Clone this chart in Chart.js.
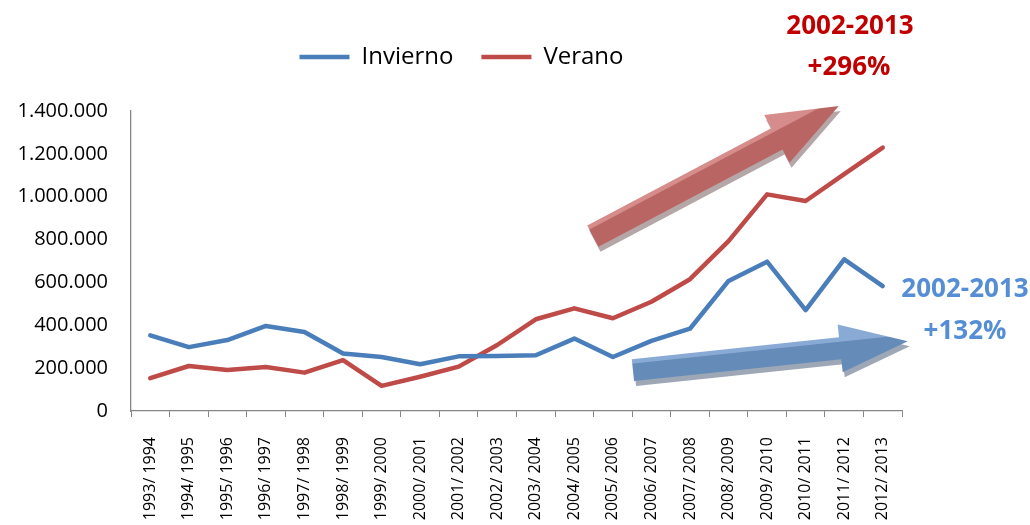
<!DOCTYPE html>
<html lang="es">
<head>
<meta charset="UTF-8">
<title>Invierno / Verano</title>
<style>
    html, body { margin: 0; padding: 0; background: #fff; overflow: hidden; }
    .chart-container { position: relative; width: 1030px; height: 525px; }
</style>
</head>
<body>
<div class="chart-container">
    <canvas id="seasonChart"></canvas>
</div>

<script src="https://cdn.jsdelivr.net/npm/chart.js"></script>
<script>
    // Data
    const seasons = ['1993/ 1994', '1994/ 1995', '1995/ 1996', '1996/ 1997', '1997/ 1998',
        '1998/ 1999', '1999/ 2000', '2000/ 2001', '2001/ 2002', '2002/ 2003',
        '2003/ 2004', '2004/ 2005', '2005/ 2006', '2006/ 2007', '2007/ 2008',
        '2008/ 2009', '2009/ 2010', '2010/ 2011', '2011/ 2012', '2012/ 2013'];
    const invierno = [353000, 298000, 331000, 397000, 369000, 268000, 252000, 218000, 255000, 257000,
        260000, 338000, 252000, 327000, 384000, 607000, 697000, 471000, 708000, 583000];
    const verano = [153000, 210000, 191000, 205000, 179000, 237000, 117000, 160000, 207000, 308000,
        428000, 479000, 433000, 510000, 615000, 793000, 1011000, 980000, 1105000, 1229000];
    const yMax = 1400000;
    const yStep = 200000;

    const blue = '#4a7ebb';
    const red = '#be4b48';
    const axisGray = '#868686';

    function thousands(v) {
        return String(v).replace(/\B(?=(\d{3})+(?!\d))/g, '.');
    }

    // trend arrows, anchored on the chart's own scales (category index, value)
    const arrows = [
        { from: [11.48, 816000], to: [17.86, 1423000], shaft: 24, head: 54, headLen: 70,
          fill: '#b96563', light: '#d68c8a', shadow: 'rgba(150,128,130,0.7)' },
        { from: [12.52, 191000], to: [19.65, 326000], shaft: 22, head: 48, headLen: 68,
          fill: '#658bb8', light: '#8aaad6', shadow: 'rgba(125,138,158,0.75)' }
    ];

    const notes = [
        { text: '2002-2013', x: 850, y: 27, color: '#c00000' },
        { text: '+296%', x: 849, y: 68, color: '#c00000' },
        { text: '2002-2013', x: 965, y: 290, color: '#558ed5' },
        { text: '+132%', x: 965, y: 332, color: '#558ed5' }
    ];

    function arrowPath(ctx, len, a) {
        const sw = a.shaft / 2, hw = a.head / 2;
        ctx.beginPath();
        ctx.moveTo(0, -sw);
        ctx.lineTo(len - a.headLen, -sw);
        ctx.lineTo(len - a.headLen, -hw);
        ctx.lineTo(len, 0);
        ctx.lineTo(len - a.headLen, hw);
        ctx.lineTo(len - a.headLen, sw);
        ctx.lineTo(0, sw);
        ctx.closePath();
    }

    const arrowPlugin = {
        id: 'trendArrows',
        afterDatasetsDraw(chart) {
            const ctx = chart.ctx;
            const xs = chart.scales.x, ys = chart.scales.y;
            arrows.forEach(a => {
                const x0 = xs.getPixelForValue(a.from[0]), y0 = ys.getPixelForValue(a.from[1]);
                const x1 = xs.getPixelForValue(a.to[0]), y1 = ys.getPixelForValue(a.to[1]);
                const ang = Math.atan2(y1 - y0, x1 - x0);
                const len = Math.hypot(x1 - x0, y1 - y0);
                const hw = a.head / 2, sw = a.shaft / 2;

                // shadow
                ctx.save();
                ctx.translate(x0 + 2, y0 + 5);
                ctx.rotate(ang);
                arrowPath(ctx, len, a);
                ctx.fillStyle = a.shadow;
                ctx.fill();
                ctx.restore();

                // body with a lighter top edge
                ctx.save();
                ctx.translate(x0, y0);
                ctx.rotate(ang);
                arrowPath(ctx, len, a);
                const g = ctx.createLinearGradient(0, -hw, 0, hw);
                const edge = (hw - sw + 4) / a.head;
                g.addColorStop(0, a.light);
                g.addColorStop(edge, a.light);
                g.addColorStop(edge + 0.02, a.fill);
                g.addColorStop(1, a.fill);
                ctx.fillStyle = g;
                ctx.fill();
                ctx.restore();
            });
        },
        afterDraw(chart) {
            const ctx = chart.ctx;
            ctx.save();
            ctx.font = 'bold 26px "Open Sans"';
            ctx.textAlign = 'center';
            ctx.textBaseline = 'middle';
            notes.forEach(n => {
                ctx.fillStyle = n.color;
                ctx.fillText(n.text, n.x, n.y);
            });
            ctx.restore();
        }
    };

    Chart.defaults.font.family = '"Open Sans", sans-serif';
    Chart.defaults.color = '#000';

    const ctx = document.getElementById('seasonChart').getContext('2d');
    const seasonChart = new Chart(ctx, {
        type: 'line',
        data: {
            labels: seasons,
            datasets: [{
                label: 'Invierno',
                data: invierno,
                borderColor: blue,
                backgroundColor: blue,
                borderWidth: 4.5,
                borderCapStyle: 'round',
                borderJoinStyle: 'round',
                pointRadius: 0,
                tension: 0
            }, {
                label: 'Verano',
                data: verano,
                borderColor: red,
                backgroundColor: red,
                borderWidth: 4.5,
                borderCapStyle: 'round',
                borderJoinStyle: 'round',
                pointRadius: 0,
                tension: 0
            }]
        },
        options: {
            responsive: true,
            maintainAspectRatio: false,
            animation: false,
            layout: { padding: { top: 17, right: 107, left: 0, bottom: 0 } },
            plugins: {
                tooltip: { enabled: false },
                legend: {
                    position: 'top',
                    labels: {
                        usePointStyle: true,
                        pointStyle: 'line',
                        pointStyleWidth: 50,
                        padding: 28,
                        color: '#000',
                        font: { size: 24 }
                    }
                }
            },
            scales: {
                x: {
                    offset: true,
                    grid: {
                        offset: true,
                        drawOnChartArea: false,
                        drawTicks: true,
                        tickLength: 6,
                        color: axisGray
                    },
                    border: { color: axisGray, width: 1.3 },
                    ticks: {
                        autoSkip: false,
                        minRotation: 90,
                        maxRotation: 90,
                        padding: 20,
                        color: '#000',
                        font: { size: 16 }
                    },
                    afterFit: s => { s.height = 114; }
                },
                // empty spacer between legend and plot
                xTop: {
                    type: 'linear',
                    axis: 'x',
                    position: 'top',
                    display: true,
                    grid: { display: false, drawTicks: false },
                    border: { display: false },
                    ticks: { display: false },
                    afterFit: s => { s.height = 32; }
                },
                y: {
                    min: 0,
                    max: yMax,
                    grid: { display: false, drawTicks: false },
                    border: { color: axisGray, width: 1.3 },
                    ticks: {
                        stepSize: yStep,
                        padding: 23,
                        color: '#000',
                        font: { size: 20 },
                        callback: v => thousands(v)
                    },
                    afterFit: s => { s.width = 131; }
                },
                y2: {
                    position: 'right',
                    display: true,
                    grid: { display: false, drawTicks: false },
                    border: { display: false },
                    ticks: { display: false },
                    afterFit: s => { s.width = 21; }
                }
            }
        },
        plugins: [arrowPlugin]
    });
</script>
</body>
</html>
